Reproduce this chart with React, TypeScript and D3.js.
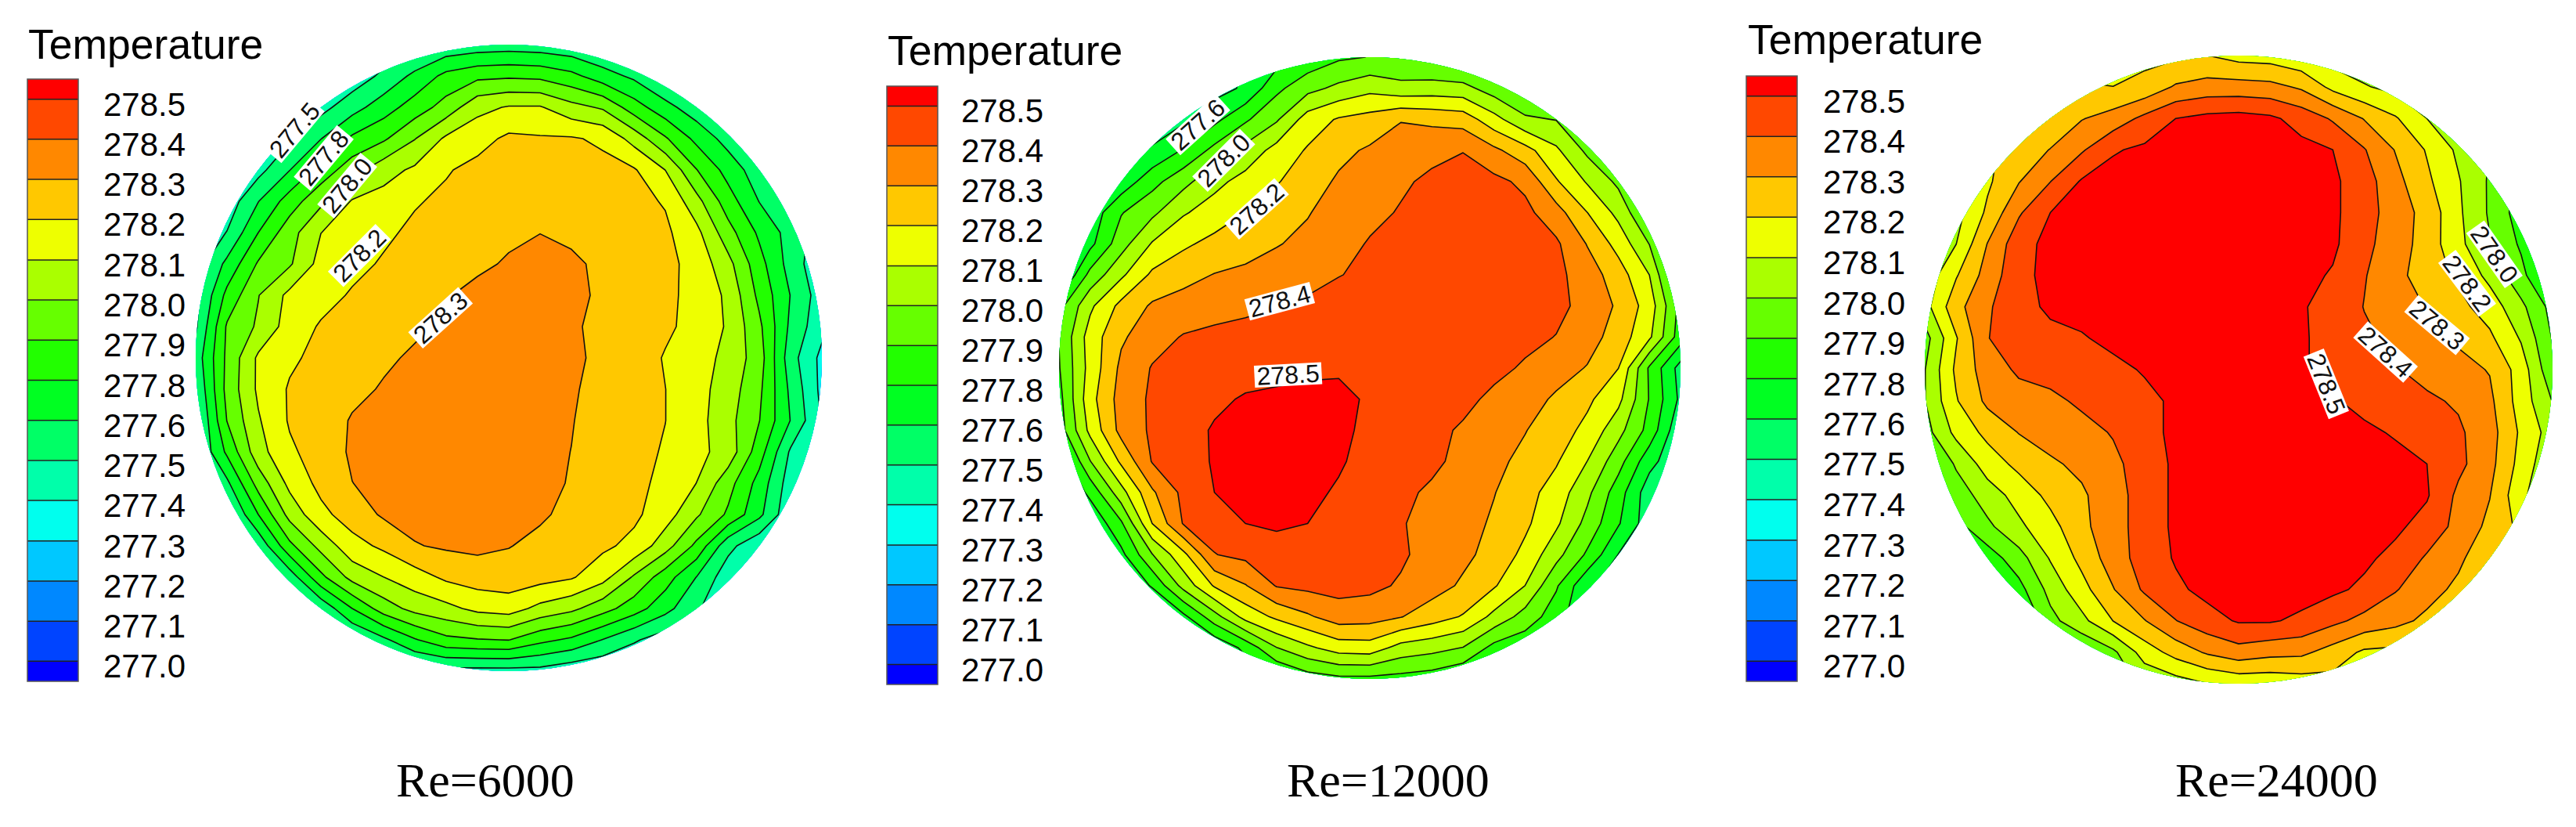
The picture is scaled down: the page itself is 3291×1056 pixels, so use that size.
import React from "react";
import * as d3 from "d3";

// Temperature sampled on a 21x21 grid over each pipe section, rows top to bottom
const tempRe6000 = [
  [277.42,277.42,277.42,277.42,277.42,277.44,277.46,277.5,277.56,277.58,277.59,277.58,277.56,277.52,277.48,277.44,277.42,277.42,277.42,277.42,277.42],
  [277.42,277.42,277.42,277.42,277.43,277.47,277.56,277.67,277.78,277.83,277.84,277.83,277.78,277.69,277.62,277.52,277.48,277.44,277.42,277.42,277.42],
  [277.42,277.42,277.42,277.43,277.5,277.6,277.7,277.8,277.9,278.04,278.08,278.08,278.0,277.95,277.8,277.68,277.58,277.5,277.44,277.42,277.42],
  [277.42,277.42,277.44,277.52,277.64,277.77,277.84,277.96,278.09,278.14,278.2,278.19,278.19,278.16,278.03,277.87,277.72,277.6,277.5,277.44,277.42],
  [277.42,277.43,277.5,277.64,277.79,277.92,278.03,278.09,278.17,278.21,278.22,278.22,278.22,278.21,278.19,278.07,277.86,277.71,277.58,277.5,277.44],
  [277.42,277.47,277.64,277.8,277.94,278.08,278.11,278.17,278.2,278.22,278.24,278.26,278.25,278.24,278.21,278.17,278.0,277.8,277.64,277.52,277.45],
  [277.44,277.54,277.75,277.92,278.07,278.11,278.16,278.2,278.22,278.25,278.27,278.285,278.27,278.26,278.23,278.2,278.1,277.9,277.73,277.6,277.48],
  [277.48,277.67,277.87,277.95,278.11,278.15,278.19,278.22,278.25,278.27,278.295,278.31,278.3,278.27,278.24,278.21,278.14,278.0,277.79,277.6,277.45],
  [277.5,277.78,277.96,278.1,278.14,278.19,278.22,278.25,278.28,278.31,278.33,278.33,278.31,278.27,278.24,278.2,278.15,278.05,277.83,277.64,277.48],
  [277.52,277.87,277.98,278.12,278.19,278.21,278.23,278.27,278.3,278.33,278.34,278.33,278.3,278.26,278.23,278.2,278.14,278.06,277.88,277.62,277.46],
  [277.58,277.88,278.09,278.16,278.21,278.24,278.27,278.3,278.32,278.34,278.34,278.33,278.3,278.27,278.24,278.17,278.12,278.04,277.91,277.58,277.4],
  [277.54,277.89,278.09,278.19,278.22,278.26,278.295,278.31,278.33,278.34,278.34,278.33,278.295,278.26,278.23,278.18,278.11,278.02,277.88,277.62,277.4],
  [277.5,277.86,278.06,278.19,278.23,278.295,278.31,278.33,278.34,278.34,278.34,278.32,278.29,278.25,278.22,278.18,278.11,278.0,277.86,277.64,277.42],
  [277.52,277.77,278.03,278.16,278.23,278.3,278.32,278.33,278.34,278.34,278.33,278.31,278.285,278.25,278.21,278.17,278.1,278.03,277.8,277.52,277.42],
  [277.48,277.62,277.9,278.1,278.21,278.285,278.31,278.33,278.34,278.33,278.32,278.31,278.28,278.24,278.22,278.14,278.07,277.9,277.71,277.48,277.42],
  [277.45,277.5,277.75,278.0,278.15,278.23,278.3,278.32,278.33,278.33,278.32,278.3,278.26,278.23,278.2,278.12,277.98,277.84,277.67,277.45,277.42],
  [277.42,277.5,277.56,277.83,278.0,278.14,278.2,278.28,278.3,278.31,278.29,278.26,278.23,278.2,278.15,278.01,277.83,277.57,277.45,277.42,277.42],
  [277.42,277.42,277.5,277.58,277.83,278.0,278.07,278.13,278.2,278.23,278.24,278.22,278.19,278.11,277.95,277.8,277.64,277.47,277.42,277.42,277.42],
  [277.42,277.42,277.45,277.5,277.56,277.75,277.91,278.0,278.04,278.1,278.12,278.04,277.99,277.9,277.8,277.68,277.55,277.45,277.42,277.42,277.42],
  [277.42,277.42,277.42,277.45,277.48,277.52,277.62,277.74,277.83,277.85,277.86,277.78,277.73,277.64,277.55,277.48,277.45,277.42,277.42,277.42,277.42],
  [277.42,277.42,277.42,277.42,277.42,277.44,277.46,277.48,277.5,277.5,277.5,277.5,277.46,277.44,277.42,277.42,277.42,277.42,277.42,277.42,277.42],
];

const tempRe12000 = [
  [277.55,277.55,277.55,277.55,277.55,277.6,277.65,277.7,277.78,277.84,277.86,277.86,277.84,277.8,277.8,277.8,277.8,277.8,277.8,277.8,277.8],
  [277.55,277.55,277.55,277.55,277.55,277.6,277.66,277.83,277.93,277.99,278.04,278.0,278.01,278.0,277.91,277.86,277.82,277.8,277.8,277.8,277.8],
  [277.55,277.55,277.55,277.56,277.62,277.72,277.84,277.95,278.12,278.19,278.22,278.28,278.26,278.24,278.11,277.98,277.96,277.92,277.9,277.85,277.8],
  [277.55,277.55,277.58,277.66,277.76,277.89,278.0,278.11,278.19,278.26,278.3,278.34,278.37,278.39,278.31,278.22,278.09,277.94,277.9,277.87,277.8],
  [277.55,277.6,277.68,277.82,277.93,278.04,278.11,278.17,278.24,278.3,278.34,278.38,278.41,278.43,278.42,278.37,278.19,278.06,277.94,277.9,277.85],
  [277.55,277.68,277.85,277.94,278.06,278.12,278.18,278.24,278.28,278.33,278.37,278.4,278.43,278.45,278.45,278.42,278.33,278.18,278.04,277.84,277.75],
  [277.55,277.72,277.92,278.08,278.16,278.21,278.24,278.28,278.31,278.36,278.4,278.42,278.44,278.46,278.46,278.44,278.41,278.28,278.14,277.96,277.65],
  [277.6,277.89,278.05,278.2,278.25,278.29,278.31,278.33,278.36,278.39,278.41,278.43,278.45,278.47,278.47,278.45,278.42,278.34,278.23,278.07,277.72],
  [277.82,278.05,278.21,278.3,278.33,278.35,278.37,278.39,278.41,278.43,278.44,278.45,278.46,278.47,278.47,278.45,278.42,278.36,278.27,278.13,277.82],
  [277.86,278.12,278.27,278.35,278.4,278.42,278.43,278.44,278.45,278.46,278.46,278.47,278.47,278.46,278.45,278.42,278.39,278.33,278.24,278.09,277.8],
  [277.85,278.11,278.31,278.4,278.43,278.45,278.46,278.47,278.48,278.49,278.47,278.46,278.45,278.43,278.42,278.38,278.33,278.28,278.18,277.84,277.6],
  [277.82,278.14,278.33,278.41,278.44,278.48,278.51,278.52,278.53,278.52,278.49,278.47,278.45,278.42,278.37,278.33,278.27,278.2,278.1,277.85,277.62],
  [277.8,278.1,278.32,278.41,278.46,278.51,278.53,278.54,278.54,278.52,278.48,278.46,278.42,278.38,278.34,278.29,278.23,278.15,278.0,277.82,277.55],
  [277.65,277.96,278.2,278.4,278.45,278.51,278.53,278.54,278.53,278.51,278.47,278.44,278.41,278.37,278.31,278.26,278.19,278.07,277.9,277.68,277.55],
  [277.6,277.78,278.03,278.27,278.42,278.5,278.53,278.53,278.52,278.49,278.44,278.41,278.38,278.34,278.29,278.22,278.13,277.99,277.8,277.58,277.5],
  [277.6,277.65,277.84,278.18,278.4,278.43,278.5,278.52,278.5,278.46,278.43,278.4,278.36,278.33,278.27,278.2,278.09,277.93,277.76,277.58,277.55],
  [277.55,277.6,277.72,277.96,278.15,278.39,278.42,278.44,278.45,278.44,278.42,278.41,278.35,278.31,278.25,278.15,278.0,277.84,277.64,277.58,277.55],
  [277.55,277.58,277.65,277.76,278.0,278.19,278.28,278.4,278.42,278.43,278.42,278.38,278.33,278.27,278.19,278.07,277.87,277.66,277.6,277.58,277.55],
  [277.55,277.55,277.57,277.62,277.72,277.92,278.11,278.2,278.27,278.34,278.33,278.29,278.23,278.17,278.04,277.92,277.8,277.65,277.6,277.58,277.55],
  [277.55,277.55,277.55,277.55,277.58,277.65,277.78,277.96,278.05,278.12,278.13,278.03,278.0,277.96,277.82,277.78,277.7,277.62,277.6,277.58,277.55],
  [277.55,277.55,277.55,277.55,277.55,277.6,277.65,277.72,277.8,277.83,277.83,277.82,277.8,277.75,277.72,277.7,277.65,277.6,277.6,277.58,277.55],
];

const tempRe24000 = [
  [277.9,278.0,278.1,278.12,278.12,278.12,278.13,278.15,278.16,278.18,278.14,278.13,278.09,278.02,278.0,277.98,277.95,277.9,277.85,277.8,277.8],
  [278.0,278.08,278.15,278.18,278.19,278.19,278.18,278.21,278.3,278.33,278.33,278.32,278.27,278.15,278.08,278.04,277.98,277.9,277.85,277.8,277.8],
  [278.02,278.08,278.15,278.18,278.2,278.28,278.33,278.42,278.5,278.53,278.54,278.52,278.46,278.38,278.28,278.19,278.07,277.98,277.95,277.85,277.8],
  [278.03,278.1,278.16,278.22,278.29,278.38,278.49,278.52,278.55,278.56,278.56,278.55,278.53,278.5,278.4,278.28,278.17,278.05,277.96,277.88,277.8],
  [278.0,278.08,278.16,278.28,278.39,278.51,278.54,278.56,278.58,278.58,278.58,278.57,278.55,278.52,278.44,278.32,278.2,278.08,277.95,277.82,277.75],
  [277.95,278.03,278.2,278.38,278.5,278.52,278.54,278.56,278.58,278.58,278.58,278.57,278.55,278.52,278.44,278.34,278.25,278.09,277.95,277.8,277.7],
  [277.95,278.07,278.29,278.46,278.53,278.56,278.57,278.58,278.58,278.58,278.57,278.56,278.55,278.52,278.42,278.34,278.24,278.1,277.97,277.84,277.7],
  [278.0,278.17,278.33,278.47,278.53,278.55,278.57,278.57,278.57,278.57,278.56,278.55,278.53,278.49,278.4,278.32,278.23,278.16,278.04,277.89,277.7],
  [278.03,278.25,278.38,278.46,278.52,278.54,278.55,278.56,278.56,278.55,278.54,278.53,278.51,278.46,278.39,278.34,278.28,278.21,278.13,277.99,277.82],
  [277.92,278.17,278.39,278.44,278.47,278.49,278.53,278.55,278.55,278.54,278.53,278.52,278.51,278.47,278.41,278.37,278.32,278.27,278.2,278.06,277.85],
  [277.96,278.2,278.34,278.41,278.43,278.45,278.47,278.51,278.54,278.54,278.53,278.52,278.51,278.47,278.43,278.4,278.36,278.32,278.28,278.13,277.88],
  [277.96,278.17,278.31,278.35,278.37,278.41,278.43,278.47,278.52,278.53,278.53,278.53,278.52,278.51,278.47,278.44,278.41,278.38,278.31,278.13,277.96],
  [277.92,278.1,278.21,278.29,278.33,278.36,278.4,278.47,278.52,278.54,278.55,278.56,278.56,278.54,278.52,278.49,278.45,278.41,278.33,278.16,278.02],
  [277.8,277.98,278.12,278.21,278.27,278.31,278.37,278.44,278.52,278.55,278.56,278.57,278.57,278.56,278.55,278.53,278.5,278.42,278.32,278.14,277.98],
  [277.7,277.9,278.02,278.11,278.21,278.27,278.35,278.44,278.52,278.56,278.57,278.57,278.57,278.56,278.55,278.54,278.51,278.37,278.29,278.1,277.95],
  [277.7,277.82,277.94,278.05,278.14,278.26,278.35,278.44,278.52,278.56,278.57,278.57,278.57,278.56,278.55,278.52,278.46,278.36,278.26,278.15,278.05],
  [277.6,277.7,277.8,277.92,278.08,278.21,278.34,278.44,278.51,278.54,278.55,278.55,278.55,278.54,278.52,278.47,278.38,278.31,278.2,278.16,278.1],
  [277.6,277.65,277.72,277.82,278.0,278.14,278.28,278.41,278.48,278.53,278.54,278.54,278.54,278.52,278.48,278.4,278.33,278.26,278.19,278.15,278.1],
  [277.6,277.6,277.65,277.72,277.93,278.04,278.18,278.28,278.39,278.46,278.51,278.51,278.48,278.42,278.36,278.32,278.26,278.2,278.18,278.15,278.1],
  [277.6,277.6,277.6,277.7,277.75,277.85,277.94,278.12,278.22,278.3,278.35,278.32,278.31,278.24,278.16,278.15,278.16,278.18,278.15,278.15,278.1],
  [277.6,277.6,277.6,277.65,277.75,277.85,277.92,277.98,278.02,278.07,278.1,278.1,278.12,278.14,278.14,278.14,278.14,278.14,278.14,278.12,278.1],
];

// Contour levels of the legend, with the label each one shows
const tempLevels = [277, 277.107, 277.214, 277.321, 277.429, 277.536, 277.643, 277.75, 277.857, 277.964, 278.071, 278.179, 278.286, 278.393, 278.5];
const levelLabels = ["277.0", "277.1", "277.2", "277.3", "277.4", "277.5", "277.6", "277.8", "277.9", "278.0", "278.1", "278.2", "278.3", "278.4", "278.5"];
// One colour per band, coldest band (below the first level) first
const bandColors = ["#0000ff", "#0044ff", "#0088ff", "#00c8ff", "#00ffee", "#00ffaa", "#00ff66", "#00ff22", "#22ff00", "#66ff00", "#aaff00", "#eeff00", "#ffc800", "#ff8800", "#ff4800", "#ff0000"];

const captions = ["Re=6000", "Re=12000", "Re=24000"];
const lineLabels6000 = ["277.5", "277.8", "278.0", "278.2", "278.3"];
const lineLabels12000 = ["277.6", "278.0", "278.2", "278.4", "278.5"];
const lineLabels24000 = ["278.0", "278.2", "278.3", "278.4", "278.5"];

const GRID = 21;

// Where things sit on the page
const layouts = [
  {
    cx: 650, cy: 457, r: 400, legendX: 35, legendTop: 101, legendBottom: 870, labelX: 132, titleX: 36, titleY: 75, captionX: 506,
    spots: [[-0.684, -0.727, -50], [-0.591, -0.638, -50], [-0.516, -0.55, -50], [-0.477, -0.327, -45], [-0.218, -0.128, -42]],
  },
  {
    cx: 1750, cy: 470, r: 397, legendX: 1133, legendTop: 110, legendBottom: 874, labelX: 1228, titleX: 1134, titleY: 83, captionX: 1644,
    spots: [[-0.553, -0.783, -42], [-0.47, -0.668, -45], [-0.364, -0.512, -42], [-0.29, -0.215, -15], [-0.263, 0.022, -3]],
  },
  {
    cx: 2860, cy: 472, r: 401, legendX: 2231, legendTop: 97, legendBottom: 870, labelX: 2329, titleX: 2233, titleY: 69, captionX: 2779,
    spots: [[0.815, -0.367, 55], [0.728, -0.275, 53], [0.632, -0.142, 40], [0.468, -0.056, 42], [0.279, 0.045, 68]],
  },
];

const SANS = "'Liberation Sans', Arial, sans-serif";
const SERIF = "'Liberation Serif', 'Times New Roman', serif";

const Legend = ({ layout }: any) => {
  const { legendX, legendTop, legendBottom, labelX, titleX, titleY } = layout;
  const step = (legendBottom - legendTop) / (tempLevels.length);
  const y = d3.scaleLinear()
    .domain([278.5, 277])
    .range([legendTop + step / 2, legendBottom - step / 2]);
  const edges = [legendBottom, ...tempLevels.map((d) => y(d)), legendTop];
  return (
    <g>
      <text x={titleX} y={titleY} fontFamily={SANS} fontSize={53.5}>Temperature</text>
      {bandColors.map((c, i) => (
        <rect key={c} x={legendX} y={edges[i + 1]} width={65} height={edges[i] - edges[i + 1]} fill={c} />
      ))}
      {tempLevels.map((d) => (
        <line key={d} x1={legendX} x2={legendX + 65} y1={y(d)} y2={y(d)} stroke="#222" strokeWidth={1.5} />
      ))}
      <rect x={legendX} y={legendTop} width={65} height={legendBottom - legendTop} fill="none" stroke="#555" strokeWidth={1.5} />
      {tempLevels.map((d, i) => (
        <text key={d} x={labelX} y={y(d) + 21} fontFamily={SANS} fontSize={42}>{levelLabels[i]}</text>
      ))}
    </g>
  );
};

const Section = ({ values, layout, texts, id }: any) => {
  const { cx, cy, r, spots } = layout;
  // d3.contours puts grid value i at i + 0.5
  const x = d3.scaleLinear().domain([0.5, GRID - 0.5]).range([cx - r, cx + r]);
  const y = d3.scaleLinear().domain([0.5, GRID - 0.5]).range([cy - r, cy + r]);
  const path = d3.geoPath(d3.geoTransform({
    point(px, py) {
      this.stream.point(x(px), y(py));
    },
  }));
  const shapes = d3.contours().size([GRID, GRID]).thresholds(tempLevels)(values.flat());
  return (
    <g>
      <clipPath id={id}>
        <circle cx={cx} cy={cy} r={r} />
      </clipPath>
      <g clipPath={`url(#${id})`}>
        <circle cx={cx} cy={cy} r={r} fill={bandColors[0]} />
        {shapes.map((s, i) => (
          <path key={i} d={path(s)} fill={bandColors[i + 1]} />
        ))}
        {shapes.map((s, i) => (
          <path key={i} d={path(s)} fill="none" stroke="#111" strokeWidth={1.6} strokeLinejoin="round" />
        ))}
      </g>
      {spots.map(([u, v, angle], i) => (
        <g key={i} transform={`translate(${cx + u * r},${cy + v * r}) rotate(${angle})`}>
          <rect x={-43} y={-14} width={86} height={28} fill="#fff" />
          <text textAnchor="middle" dominantBaseline="central" fontFamily={SANS} fontSize={32} fill="#111">{texts[i]}</text>
        </g>
      ))}
    </g>
  );
};

const App = () => {
  const grids = [tempRe6000, tempRe12000, tempRe24000];
  const lineLabels = [lineLabels6000, lineLabels12000, lineLabels24000];
  return (
    <svg width={3291} height={1056} style={{ position: "absolute", left: 0, top: 0, background: "#fff" }}>
      {layouts.map((layout, i) => (
        <g key={i}>
          <Legend layout={layout} />
          <Section values={grids[i]} layout={layout} texts={lineLabels[i]} id={`section${i}`} />
          <text x={layout.captionX} y={1017} fontFamily={SERIF} fontSize={62}>{captions[i]}</text>
        </g>
      ))}
    </svg>
  );
};

export default App;
